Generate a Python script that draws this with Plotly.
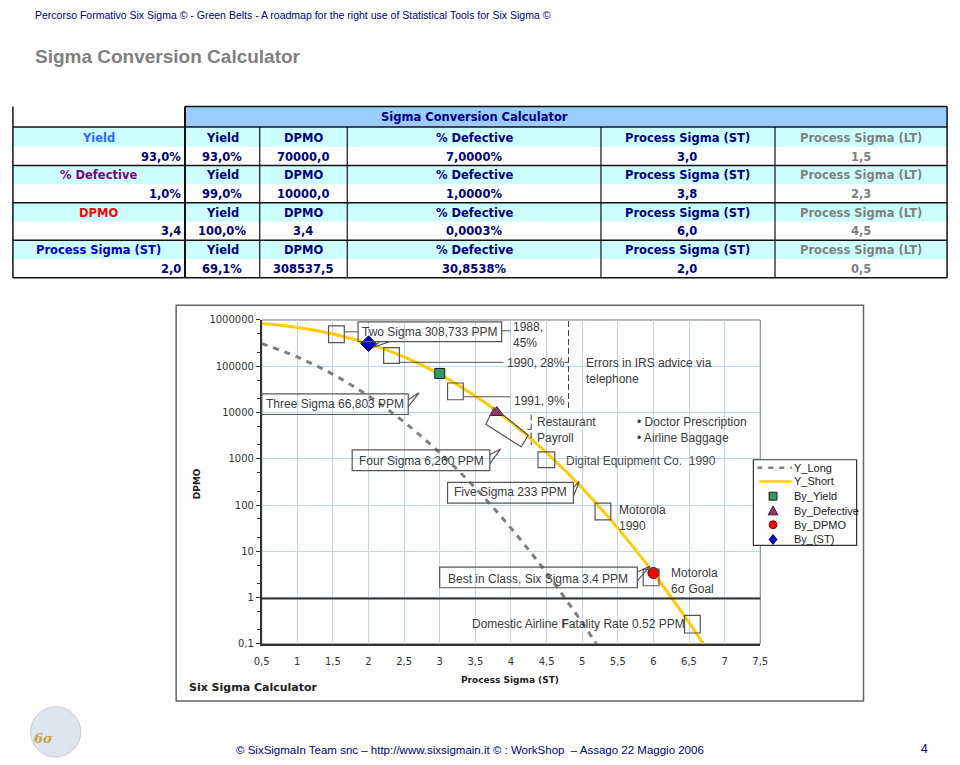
import plotly.graph_objects as go

# ---- dati ----
sigma_long = [0.5, 1.0, 1.5, 2.0, 2.5, 3.0, 3.5, 4.0, 4.5, 5.0, 5.25]
dpmo_long = [308538, 158655, 66807, 22750, 6210, 1350, 233, 31.7, 3.4, 0.287, 0.076]

sigma_short = [0.5, 1.0, 1.5, 2.0, 2.5, 3.0, 3.5, 4.0, 4.5, 5.0, 5.5, 6.0, 6.5, 6.75]
dpmo_short = [841345, 691462, 500000, 308538, 158655, 66807, 22750, 6210, 1350, 233, 31.7, 3.4, 0.287, 0.076]

yield_pt = ([3.0], [70000])
defective_pt = ([3.8], [10000])
dpmo_pt = ([6.0], [3.4])
st_pt = ([2.0], [308537.5])

x_ticks = [0.5, 1, 1.5, 2, 2.5, 3, 3.5, 4, 4.5, 5, 5.5, 6, 6.5, 7, 7.5]
x_ticktext = ["0,5", "1", "1,5", "2", "2,5", "3", "3,5", "4", "4,5", "5", "5,5", "6", "6,5", "7", "7,5"]
y_ticks = [0.1, 1, 10, 100, 1000, 10000, 100000, 1000000]
y_ticktext = ["0,1", "1", "10", "100", "1000", "10000", "100000", "1000000"]

# tabella
left_labels = ["Yield", "% Defective", "DPMO", "Process Sigma (ST)"]
left_colors = ["#3366FF", "#800080", "#FF0000", "#0000CC"]
inputs = ["93,0%", "1,0%", "3,4", "2,0"]
col_headers = ["Yield", "DPMO", "% Defective", "Process Sigma (ST)", "Process Sigma (LT)"]
yields = ["93,0%", "99,0%", "100,0%", "69,1%"]
dpmos = ["70000,0", "10000,0", "3,4", "308537,5"]
pct_def = ["7,0000%", "1,0000%", "0,0003%", "30,8538%"]
sigma_st = ["3,0", "3,8", "6,0", "2,0"]
sigma_lt = ["1,5", "2,3", "4,5", "0,5"]

W, H = 960, 765
NAVY = "#000080"
GREY_TXT = "#3a3a3a"


def px(x):
    return x / W


def py(y):
    return 1 - y / H


def path(pts, close=True):
    s = "M " + " L ".join(f"{px(x):.5f},{py(y):.5f}" for x, y in pts)
    return s + (" Z" if close else "")


fig = go.Figure()

# ---- tracce ----
series_style = [
    ("Y_Long", dict(color="#7f7f7f", width=3, dash="6px,6px")),
    ("Y_Short", dict(color="#FFCC00", width=3)),
]
marker_style = [
    ("By_Yield", yield_pt, dict(symbol="square", size=10, color="#339966", line=dict(color="#1a1a1a", width=1))),
    ("By_Defective", defective_pt, dict(symbol="triangle-up", size=12, color="#993366", line=dict(color="#4d1a33", width=1))),
    ("By_DPMO", dpmo_pt, dict(symbol="circle", size=11, color="#FF0000", line=dict(color="#800000", width=1))),
    ("By_(ST)", st_pt, dict(symbol="diamond", size=12, color="#0000CC", line=dict(color="#000066", width=1))),
]

fig.add_trace(go.Scatter(x=sigma_long, y=dpmo_long, mode="lines", name=series_style[0][0],
                         line=dict(shape="spline", **series_style[0][1])))
fig.add_trace(go.Scatter(x=sigma_short, y=dpmo_short, mode="lines", name=series_style[1][0],
                         line=dict(shape="spline", **series_style[1][1])))
for name, pt, mk in marker_style:
    fig.add_trace(go.Scatter(x=pt[0], y=pt[1], mode="markers", name=name, marker=mk))

shapes = []
ann = []


def rect(x0, y0, x1, y1, line="#555", width=1, fill="rgba(0,0,0,0)", layer="above"):
    shapes.append(dict(type="rect", xref="paper", yref="paper", x0=px(x0), y0=py(y0),
                       x1=px(x1), y1=py(y1), line=dict(color=line, width=width),
                       fillcolor=fill, layer=layer))


def seg(x0, y0, x1, y1, color="#555", width=1, dash="solid"):
    shapes.append(dict(type="line", xref="paper", yref="paper", x0=px(x0), y0=py(y0),
                       x1=px(x1), y1=py(y1), line=dict(color=color, width=width, dash=dash)))


def poly(pts, color="#555", width=1, close=True, fill="rgba(0,0,0,0)"):
    shapes.append(dict(type="path", xref="paper", yref="paper", path=path(pts, close),
                       line=dict(color=color, width=width), fillcolor=fill))


def txt(x, y, s, size=12, color=GREY_TXT, xanchor="center", family="Liberation Sans", angle=0):
    ann.append(dict(x=px(x), y=py(y), xref="paper", yref="paper", text=s, showarrow=False,
                    xanchor=xanchor, yanchor="middle", textangle=angle, align="left",
                    font=dict(family=family, size=size, color=color)))


# ---- intestazione ----
txt(25, 9, "Percorso Formativo Six Sigma © - Green Belts - A roadmap for the right use of Statistical Tools for Six Sigma ©",
    size=10.5, color=NAVY, xanchor="left")
txt(25, 51, "<b>Sigma Conversion Calculator</b>", size=19, color="#808080", xanchor="left")

# ---- tabella ----
TF = "Tahoma, DejaVu Sans"
rect(180, 102, 955, 123, line="rgba(0,0,0,0)", width=0, fill="#99CCFF", layer="below")
groups_top = [124, 162, 200, 238]
for gt in groups_top:
    rect(5, gt, 955, gt + 19, line="rgba(0,0,0,0)", width=0, fill="#CCFFFF", layer="below")
for yy in [123, 162, 200, 238, 276]:
    seg(5, yy, 955, yy, color="#111", width=1.5)
seg(180, 102, 955, 102, color="#111", width=1.5)
seg(5, 102, 5, 276, color="#111", width=1.5)
seg(955, 102, 955, 276, color="#111", width=1.5)
seg(180, 102, 180, 276, color="#111", width=2)
for xx in [256, 345, 603, 780]:
    seg(xx, 123, xx, 276, color="#111", width=1.2)

txt(474, 113, "<b>Sigma Conversion Calculator</b>", size=11.5, color=NAVY, family=TF)
col_centers = [218, 300, 474, 691, 867]
for i, gt in enumerate(groups_top):
    yl = gt + 10
    yv = gt + 29
    txt(92, yl, f"<b>{left_labels[i]}</b>", size=11.5, color=left_colors[i], family=TF)
    txt(178, yv, f"<b>{inputs[i]}</b>", size=11.5, color=NAVY, family=TF, xanchor="right")
    for j, h in enumerate(col_headers):
        c = "#808080" if j == 4 else NAVY
        txt(col_centers[j], yl, f"<b>{h}</b>", size=11.5, color=c, family=TF)
    vals = [yields[i], dpmos[i], pct_def[i], sigma_st[i], sigma_lt[i]]
    for j, v in enumerate(vals):
        c = "#808080" if j == 4 else NAVY
        txt(col_centers[j], yv, f"<b>{v}</b>", size=11.5, color=c, family=TF)

# ---- cornice grafico ----
rect(171, 304, 870, 706, line="#666", width=1.5)
rect(258, 319, 765, 648, line="#777", width=1, layer="below")

# asse orizzontale a DPMO = 1
seg(258, 602, 765, 602, color="#333", width=2)

# riquadri (box) lungo la curva
for b in [(326, 325, 342, 342), (382, 347, 398, 363), (447, 383, 463, 400), (539, 453, 556, 469),
          (597, 505, 613, 522), (646, 572, 662, 589), (688, 619, 704, 637)]:
    rect(*b, line="#555", width=1.2)
poly([(486, 425), (494, 408), (529, 436), (522, 448)], color="#555", width=1.2)

# callout
rect(356, 321, 502, 341, line="#555", width=1.2)
poly([(378, 341), (371, 347), (388, 341)], close=False, color="#555", width=1.2)
txt(429, 331, "Two Sigma 308,733 PPM")
rect(258, 394, 407, 415, line="#555", width=1.2)
poly([(407, 400), (418, 393), (407, 407)], close=False, color="#555", width=1.2)
txt(333, 404, "Three Sigma 66,803 PPM")
rect(350, 451, 490, 472, line="#555", width=1.2)
poly([(490, 456), (501, 450), (490, 465)], close=False, color="#555", width=1.2)
txt(420, 462, "Four Sigma 6,260 PPM")
rect(447, 484, 575, 505, line="#555", width=1.2)
poly([(575, 489), (581, 483), (575, 498)], close=False, color="#555", width=1.2)
txt(511, 494, "Five Sigma 233 PPM")
rect(439, 570, 640, 591, line="#555", width=1.2)
poly([(640, 575), (653, 569), (640, 584)], close=False, color="#555", width=1.2)
txt(539, 582, "Best in Class, Six Sigma 3.4 PPM")

# linee di collegamento
seg(342, 331, 356, 331)
seg(502, 330, 511, 330)
seg(398, 362, 504, 362)
seg(463, 397, 511, 397)

# parentesi
seg(570, 320, 570, 410, color="#444", width=1, dash="6px,3px")
seg(566, 362, 570, 362, color="#444")
seg(532, 415, 532, 446, color="#444", width=1, dash="6px,3px")
seg(528, 430, 532, 430, color="#444")

txt(512, 334, "1988,<br>45%", xanchor="left")
txt(505, 363, "1990, 28%", xanchor="left")
txt(513, 401, "1991, 9%", xanchor="left")
txt(586, 371, "Errors in IRS advice via<br>telephone", xanchor="left")
txt(536, 431, "Restaurant<br>Payroll", xanchor="left")
txt(638, 431, "• Doctor Prescription<br>• Airline Baggage", xanchor="left")
txt(565, 462, "Digital Equipment Co.  1990", xanchor="left", color="#4a4a4a")
txt(619, 520, "Motorola<br>1990", xanchor="left")
txt(672, 584, "Motorola<br>6σ Goal", xanchor="left")
txt(470, 628, "Domestic Airline <b>F</b>atality Rate 0.52 PPM", xanchor="left")

# ---- legenda (disegnata come in Excel, righe compatte) ----
rect(758, 461, 863, 548, line="#333", width=1.2, fill="white")
leg_y = [469, 483, 498, 513, 527, 542]
seg(762, leg_y[0], 797, leg_y[0], color=series_style[0][1]["color"], width=2.5, dash="5px,6px")
seg(764, leg_y[1], 797, leg_y[1], color=series_style[1][1]["color"], width=2.5)
mx = 778
mk_paths = {
    "square": [(mx - 4, -4), (mx + 4, -4), (mx + 4, 4), (mx - 4, 4)],
    "triangle-up": [(mx, -5), (mx + 5, 4), (mx - 5, 4)],
    "diamond": [(mx, -5), (mx + 4, 0), (mx, 5), (mx - 4, 0)],
}
for k, (name, pt, mk) in enumerate(marker_style):
    yc = leg_y[k + 2]
    if mk["symbol"] == "circle":
        shapes.append(dict(type="circle", xref="paper", yref="paper", x0=px(mx - 4), x1=px(mx + 4),
                           y0=py(yc + 4), y1=py(yc - 4), fillcolor=mk["color"],
                           line=dict(color=mk["line"]["color"], width=1)))
    else:
        poly([(x, yc + dy) for x, dy in mk_paths[mk["symbol"]]], color=mk["line"]["color"],
             width=1, fill=mk["color"])
for k, name in enumerate([s[0] for s in series_style] + [m[0] for m in marker_style]):
    txt(797, leg_y[k], name, size=11, color="#222", xanchor="left")

# titoli assi
txt(193, 485, "<b>DPMO</b>", size=9, color="#222", family="DejaVu Sans", angle=-90)
txt(510, 685, "<b>Process Sigma (ST)</b>", size=9, color="#222", family="DejaVu Sans")
txt(182, 692, "<b>Six Sigma Calculator</b>", size=11, color="#222", family="DejaVu Sans", xanchor="left")

# ---- piè di pagina ----
shapes.append(dict(type="circle", xref="paper", yref="paper", x0=px(23), y0=py(763), x1=px(74), y1=py(712),
                   line=dict(color="#c8ced8", width=1), fillcolor="#dfe5ee"))
txt(36, 744, "<i><b>6σ</b></i>", size=13, color="#c9a441", family="DejaVu Serif")
txt(470, 756, "© SixSigmaIn Team snc – http://www.sixsigmain.it © : WorkShop  – Assago 22 Maggio 2006",
    size=11.5, color=NAVY)
txt(932, 755, "4", size=12, color=NAVY)

fig.update_layout(
    width=W, height=H, autosize=False,
    margin=dict(l=0, r=0, t=0, b=0),
    paper_bgcolor="white", plot_bgcolor="white",
    shapes=shapes, annotations=ann,
    showlegend=False,
    xaxis=dict(domain=[px(258), px(765)], range=[0.5, 7.5], tickvals=x_ticks, ticktext=x_ticktext,
               showgrid=True, gridcolor="#BCD6EC", gridwidth=1, zeroline=False,
               showline=True, linecolor="#333", linewidth=1.5, ticks="", ticklabelstandoff=7,
               tickfont=dict(family="DejaVu Sans", size=10, color="#333"), anchor="y"),
    yaxis=dict(domain=[py(648), py(319)], type="log", range=[-1, 6], tickvals=y_ticks, ticktext=y_ticktext,
               showgrid=True, gridcolor="#BCD6EC", gridwidth=1, zeroline=False,
               showline=True, linecolor="#333", linewidth=1.5, ticks="outside", ticklen=4,
               tickcolor="#333",
               minor=dict(ticks="outside", ticklen=3, tickcolor="#333", showgrid=False),
               tickfont=dict(family="DejaVu Sans", size=10, color="#333"), anchor="x"),
    xaxis2=dict(overlaying="x", anchor="free", position=py(602), range=[0.5, 7.5], tickvals=x_ticks,
                showticklabels=False, showgrid=False, zeroline=False, ticks="outside", ticklen=4,
                tickcolor="#333", showline=False),
    xaxis3=dict(overlaying="x", anchor="free", position=py(602), range=[0.5, 7.5], tickvals=x_ticks,
                showticklabels=False, showgrid=False, zeroline=False, ticks="inside", ticklen=4,
                tickcolor="#333", showline=False),
    yaxis2=dict(overlaying="y", anchor="x", type="log", range=[-1, 6], tickvals=y_ticks,
                showticklabels=False, showgrid=False, zeroline=False, ticks="inside", ticklen=4,
                tickcolor="#333",
                minor=dict(ticks="inside", ticklen=3, tickcolor="#333", showgrid=False)),
)

fig.write_html("out.html", config={"displayModeBar": False},
               post_script="document.body.style.margin='0px';document.body.style.overflow='hidden';")
